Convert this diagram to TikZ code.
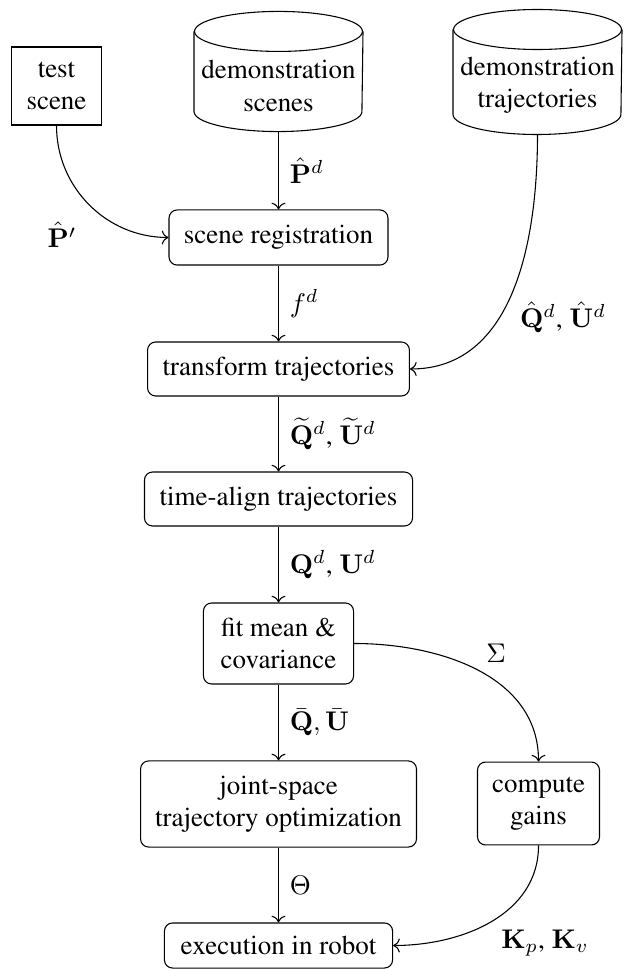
\documentclass[tikz,border=0pt]{standalone}
\usepackage[T1]{fontenc}
\renewcommand{\rmdefault}{ptm}
\usetikzlibrary{arrows.meta}
\begin{document}
\begin{tikzpicture}[x=0.3704pt,y=0.3704pt,
  proc/.style={draw, rounded corners=3pt, align=center, inner sep=0pt},
  plainbox/.style={draw, align=center, inner sep=0pt},
  cylbox/.style={inner sep=0pt, minimum width=62.2pt},
  cyltext/.style={align=center, inner sep=0pt},
  lab/.style={inner sep=0pt},
  conn/.style={->}]
\useasboundingbox (0,0) rectangle (623,-969);

% nodes
\node[plainbox, minimum width=33.0pt, minimum height=28.9pt] (test) at (56.5,-86) {test\\scene};
\node[cylbox, minimum height=44.1pt] (ds) at (278.5,-71.5) {};
\node[cyltext] (dstext) at (278.5,-86) {demonstration\\scenes};
\node[cylbox, minimum height=45.9pt] (dt) at (537.5,-72) {};
\node[cyltext] (dttext) at (537.5,-85) {demonstration\\trajectories};

\node[proc, minimum width=81.1pt, minimum height=20.4pt] (reg) at (278.5,-237.5) {scene registration};
\node[proc, minimum width=97.0pt, minimum height=20.0pt] (trans) at (278.5,-369) {transform trajectories};
\node[proc, minimum width=99.3pt, minimum height=20.0pt] (talign) at (278.5,-499) {time-align trajectories};
\node[proc, minimum width=55.6pt, minimum height=30.0pt] (fit) at (278.5,-643.5) {fit mean \&\\covariance};
\node[proc, minimum width=102.2pt, minimum height=31.9pt] (joint) at (278.5,-804) {joint-space\\trajectory optimization};
\node[proc, minimum width=45.2pt, minimum height=30.7pt] (gains) at (538.5,-803.5) {compute\\gains};
\node[proc, minimum width=84.5pt, minimum height=16.7pt] (exec) at (278.5,-945.5) {execution in robot};

% cylinders
\foreach \c in {ds,dt}{
  \draw ([yshift=-7.41pt]\c.north west) -- ([yshift=7.41pt]\c.south west)
        arc[start angle=180, end angle=360, x radius=31.1pt, y radius=7.41pt]
        -- ([yshift=-7.41pt]\c.north east);
  \draw ([yshift=-7.41pt]\c.north) ellipse[x radius=31.1pt, y radius=7.41pt];
}

% straight connectors
\draw[conn] (ds.south) -- node[right, lab, xshift=4pt] (lpd) {$\hat{\mathbf{P}}^d$} (reg.north);
\draw[conn] (reg.south) -- node[right, lab, xshift=4pt] (lfd) {$f^d$} (trans.north);
\draw[conn] (trans.south) -- node[right, lab, xshift=4pt] (lqt) {$\widetilde{\mathbf{Q}}^d$, $\widetilde{\mathbf{U}}^d$} (talign.north);
\draw[conn] (talign.south) -- node[right, lab, xshift=4pt] (lqd) {$\mathbf{Q}^d$, $\mathbf{U}^d$} (fit.north);
\draw[conn] (fit.south) -- node[right, lab, xshift=4pt] (lqb) {$\bar{\mathbf{Q}}, \bar{\mathbf{U}}$} (joint.north);
\draw[conn] (joint.south) -- node[right, lab, xshift=4pt] (lth) {$\Theta$} (exec.north);

% curved connectors
\draw[conn] (test.south) to[out=-90, in=180] (reg.west);
\draw[conn] (dt.south) to[out=-90, in=0] (trans.east);
\draw[conn] (fit.east) to[out=0, in=90] (gains.north);
\draw[conn] (gains.south) to[out=-90, in=0] (exec.east);

% curve labels
\node[lab] (lpp) at (62,-235) {$\hat{\mathbf{P}}'$};
\node[lab] (lqh) at (563,-317) {$\hat{\mathbf{Q}}^d$, $\hat{\mathbf{U}}^d$};
\node[lab] (lsig) at (496,-653) {$\Sigma$};
\node[lab] (lk) at (545,-943) {$\mathbf{K}_p$, $\mathbf{K}_v$};
\end{tikzpicture}
\end{document}
